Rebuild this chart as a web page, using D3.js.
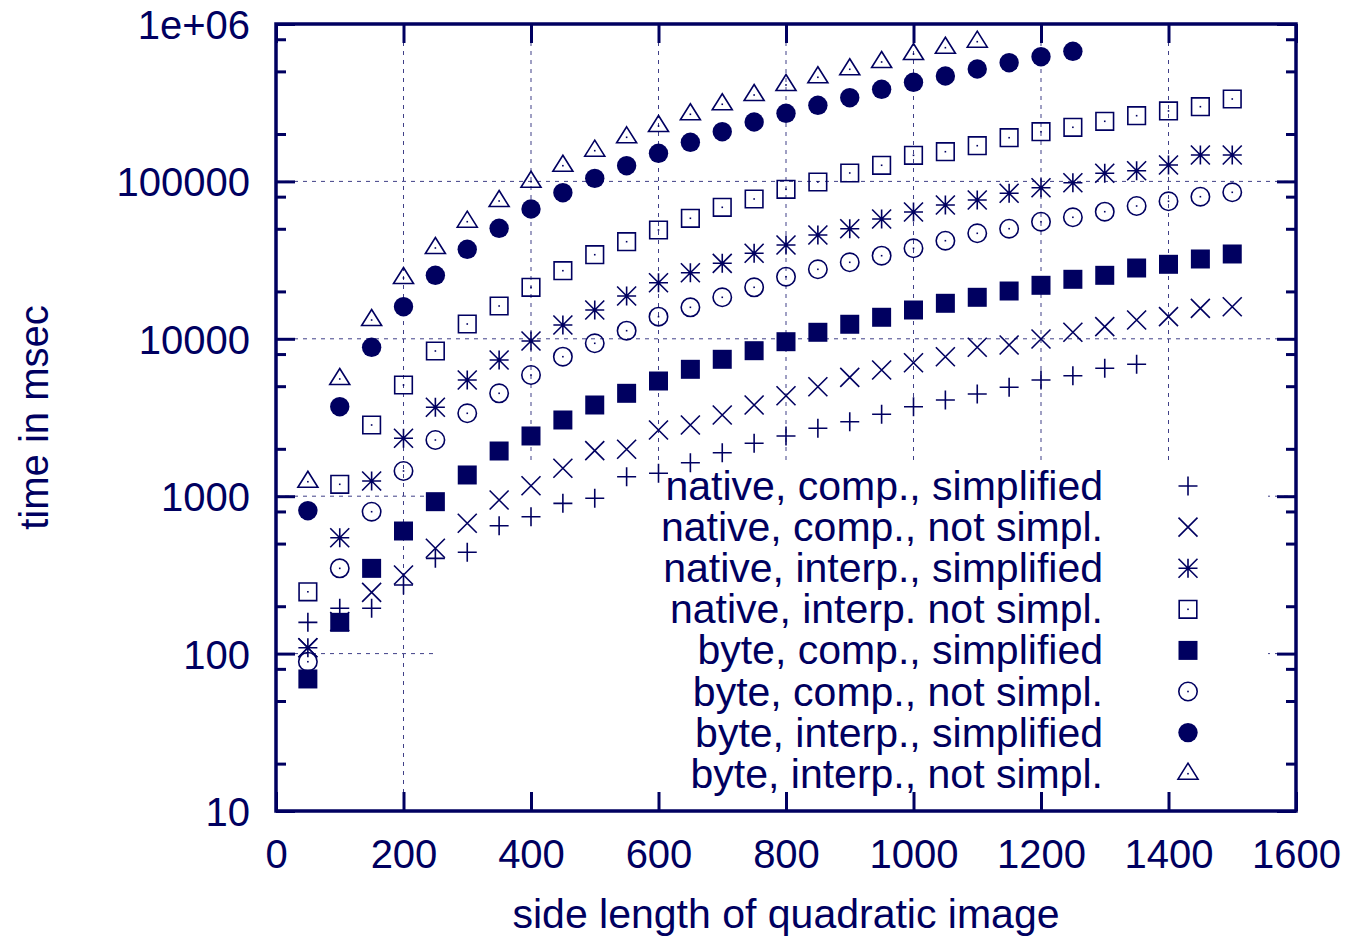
<!DOCTYPE html>
<html>
<head>
<meta charset="utf-8">
<script src="https://cdn.jsdelivr.net/npm/d3@7"></script>
<style>
  html, body { margin: 0; padding: 0; background: #fff; }
  svg text { font-family: "Liberation Sans", Arial, Helvetica, sans-serif; }
</style>
</head>
<body>
<div id="chart"></div>
<script>
// side length of the image (x values)
const sizes = [50, 100, 150, 200, 250, 300, 350, 400, 450, 500,
               550, 600, 650, 700, 750, 800, 850, 900, 950, 1000,
               1050, 1100, 1150, 1200, 1250, 1300, 1350, 1400, 1450, 1500];

// timings in msec (series may stop early)
const nativeCompSimpl = [158, 194, 194, 273, 403, 440, 649, 741, 901, 970,
  1330, 1398, 1632, 1890, 2168, 2413, 2700, 2974, 3313, 3703,
  4086, 4460, 4920, 5473, 5830, 6495, 6887];
const nativeCompNot = [109, 160, 245, 316, 467, 673, 946, 1166, 1504, 1946,
  1986, 2634, 2834, 3280, 3797, 4350, 4962, 5692, 6337, 7050,
  7697, 8831, 9133, 9970, 11000, 11940, 13160, 13820, 15620, 15990];
const nativeInterpSimpl = [109, 545, 1249, 2333, 3671, 5473, 7334, 9683, 12240, 15240,
  18700, 22720, 26300, 30170, 34930, 39450, 45640, 50060, 57690, 63920,
  70800, 76170, 84030, 91200, 98100, 112600, 116900, 127100, 147200, 147200];
const nativeInterpNot = [247, 1190, 2834, 5087, 8366, 12417, 16160, 21240, 27080, 34220,
  41390, 49120, 58300, 68460, 77300, 89100, 99100, 113100, 126600, 146500,
  154400, 168600, 189500, 206900, 220700, 240900, 261500, 280200, 298300, 333800];
const byteCompSimpl = [69, 158, 348, 601, 923, 1364, 1937, 2413, 3049, 3797,
  4505, 5394, 6400, 7410, 8403, 9585, 11000, 12370, 13700, 15240,
  16810, 18350, 20120, 21870, 23880, 25310, 28170, 29740, 32140, 34580];
const byteCompNot = [88.8, 348, 797, 1446, 2275, 3363, 4505, 5888, 7697, 9363,
  11260, 13820, 15850, 18350, 21240, 24800, 27640, 30620, 33730, 37580,
  42000, 46800, 50060, 55460, 59150, 64200, 69780, 74740, 79950, 85260];
const byteInterpSimpl = [809, 3703, 8831, 15995, 25310, 37030, 50350, 66780, 84770, 104600,
  125800, 150800, 177200, 206900, 238400, 270900, 304500, 340200, 384700, 426200,
  467300, 517700, 567600, 620000, 671000];
const byteInterpNot = [1236, 5555, 13163, 24340, 37750, 55460, 75080, 99560, 125800, 156700,
  190600, 224900, 266900, 309000, 353900, 409800, 458600, 515500, 573600, 644700,
  707000, 772000];

const seriesNames = [
  "native, comp., simplified",
  "native, comp., not simpl.",
  "native, interp., simplified",
  "native, interp. not simpl.",
  "byte, comp., simplified",
  "byte, comp., not simpl.",
  "byte, interp., simplified",
  "byte, interp., not simpl."
];
const seriesValues = [nativeCompSimpl, nativeCompNot, nativeInterpSimpl, nativeInterpNot,
  byteCompSimpl, byteCompNot, byteInterpSimpl, byteInterpNot];
const seriesMarkers = ["plus", "cross", "star", "box", "boxfill", "circle", "circlefill", "triangle"];

// axis ticks
const xTicks = [0, 200, 400, 600, 800, 1000, 1200, 1400, 1600];
const yTicks = [10, 100, 1000, 10000, 100000, 1000000];
const yTickLabels = ["10", "100", "1000", "10000", "100000", "1e+06"];
const yMinorTicks = [20, 50, 80, 200, 500, 800, 2000, 5000, 8000,
  20000, 50000, 80000, 200000, 500000, 800000];

const navy = "#000060";
const font = '"Liberation Sans", Arial, Helvetica, sans-serif';

const width = 1351;
const height = 937;
const plotLeft = 276, plotRight = 1296, plotTop = 24, plotBottom = 811;

const x = d3.scaleLinear().domain([0, 1600]).range([plotLeft, plotRight]);
const y = d3.scaleLog().domain([10, 1e6]).range([plotBottom, plotTop]);

const svg = d3.select("#chart")
  .append("svg")
  .attr("width", width)
  .attr("height", height);

// dotted grid at the major ticks
const grid = svg.append("g")
  .attr("stroke", navy)
  .attr("stroke-width", 1)
  .attr("stroke-dasharray", "4,5")
  .attr("opacity", 0.75);

grid.selectAll("line.v")
  .data(xTicks.slice(1, -1))
  .enter().append("line")
  .attr("x1", d => x(d)).attr("x2", d => x(d))
  .attr("y1", plotTop).attr("y2", plotBottom);

grid.selectAll("line.h")
  .data(yTicks.slice(1, -1))
  .enter().append("line")
  .attr("x1", plotLeft).attr("x2", plotRight)
  .attr("y1", d => y(d)).attr("y2", d => y(d));

// opaque key area hides the grid
svg.append("rect")
  .attr("x", 437).attr("y", 465)
  .attr("width", 1268 - 437).attr("height", plotBottom - 465)
  .attr("fill", "#fff");

// marker shapes like gnuplot point types
function markerPath(type) {
  const r = 9.5;
  switch (type) {
    case "plus": return `M${-r},0H${r}M0,${-r}V${r}`;
    case "cross": return `M${-r},${-r}L${r},${r}M${-r},${r}L${r},${-r}`;
    case "star": return `M${-r},0H${r}M0,${-r}V${r}M${-r},${-r}L${r},${r}M${-r},${r}L${r},${-r}`;
    case "box": return `M-8.8,-8.8H8.8V8.8H-8.8Z`;
    case "boxfill": return `M-9.5,-9.5H9.5V9.5H-9.5Z`;
    case "triangle": return `M0,-10.5L10,5.5H-10Z`;
  }
  return "";
}

function drawMarker(g, type) {
  if (type === "circle") {
    g.append("circle").attr("r", 9.2).attr("fill", "none")
      .attr("stroke", navy).attr("stroke-width", 1.6);
  } else if (type === "circlefill") {
    g.append("circle").attr("r", 9.7).attr("fill", navy);
  } else if (type === "boxfill") {
    g.append("path").attr("d", markerPath(type)).attr("fill", navy);
  } else {
    g.append("path").attr("d", markerPath(type)).attr("fill", "none")
      .attr("stroke", navy).attr("stroke-width", 1.6);
  }
  // gnuplot puts a tiny dot in the centre of open symbols
  if (type === "box" || type === "circle" || type === "triangle") {
    g.append("rect").attr("x", -0.8).attr("y", -0.8)
      .attr("width", 1.6).attr("height", 1.6).attr("fill", navy);
  }
}

// data points
seriesValues.forEach((vals, i) => {
  const pts = vals.map((v, j) => ({ x: sizes[j], v: v }));
  svg.append("g")
    .selectAll("g")
    .data(pts)
    .enter().append("g")
    .attr("transform", d => `translate(${x(d.x)},${y(d.v)})`)
    .each(function () { drawMarker(d3.select(this), seriesMarkers[i]); });
});

// key
const key = svg.append("g");
seriesNames.forEach((name, i) => {
  const cy = 486 + i * 41.1;
  key.append("text")
    .attr("x", 1103).attr("y", cy + 14)
    .attr("text-anchor", "end")
    .attr("font-size", 41)
    .attr("fill", navy)
    .text(name);
  const g = key.append("g").attr("transform", `translate(1188,${cy})`);
  drawMarker(g, seriesMarkers[i]);
});

// axes with inward ticks
function styleAxis(g) {
  g.attr("color", navy).attr("font-size", 40).attr("font-family", font);
  g.select(".domain").remove();
  g.selectAll(".tick line").attr("stroke-width", 3);
}

svg.append("g")
  .attr("transform", `translate(${plotLeft},0)`)
  .call(d3.axisLeft(y).tickValues(yTicks).tickFormat((d, i) => yTickLabels[i])
    .tickSize(-19).tickPadding(26))
  .call(styleAxis)
  .call(g => g.selectAll("text").attr("dy", "0.36em"));

svg.append("g")
  .attr("transform", `translate(${plotLeft},0)`)
  .call(d3.axisLeft(y).tickValues(yMinorTicks).tickFormat("").tickSize(-10))
  .call(styleAxis);

svg.append("g")
  .attr("transform", `translate(${plotRight},0)`)
  .call(d3.axisRight(y).tickValues(yTicks).tickFormat("").tickSize(-19))
  .call(styleAxis);

svg.append("g")
  .attr("transform", `translate(${plotRight},0)`)
  .call(d3.axisRight(y).tickValues(yMinorTicks).tickFormat("").tickSize(-10))
  .call(styleAxis);

svg.append("g")
  .attr("transform", `translate(0,${plotBottom})`)
  .call(d3.axisBottom(x).tickValues(xTicks).tickFormat(d3.format("d"))
    .tickSize(-19).tickPadding(29))
  .call(styleAxis);

svg.append("g")
  .attr("transform", `translate(0,${plotTop})`)
  .call(d3.axisTop(x).tickValues(xTicks).tickFormat("").tickSize(-19))
  .call(styleAxis);

// border
svg.append("rect")
  .attr("x", plotLeft).attr("y", plotTop)
  .attr("width", plotRight - plotLeft).attr("height", plotBottom - plotTop)
  .attr("fill", "none")
  .attr("stroke", navy)
  .attr("stroke-width", 3.5);

// axis titles
svg.append("text")
  .attr("x", (plotLeft + plotRight) / 2).attr("y", 928)
  .attr("text-anchor", "middle")
  .attr("font-size", 41)
  .attr("fill", navy)
  .text("side length of quadratic image");

svg.append("text")
  .attr("transform", `translate(48,${(plotTop + plotBottom) / 2}) rotate(-90)`)
  .attr("text-anchor", "middle")
  .attr("font-size", 40)
  .attr("fill", navy)
  .text("time in msec");
</script>
</body>
</html>
